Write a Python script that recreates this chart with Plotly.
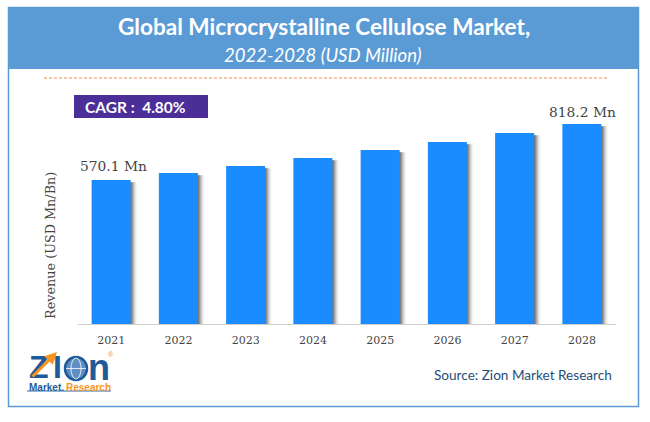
import plotly.graph_objects as go

years = ["2021", "2022", "2023", "2024", "2025", "2026", "2027", "2028"]
revenue = [570.1, 601, 632, 667, 703, 738, 778, 818.2]
axis_floor = -68
axis_top = 924.5

W = 650
H = 422

def px(x):
    return x / W

def py(y):
    return 1 - y / H

def box(x0, y0, x1, y1, **kw):
    return dict(type="rect", xref="paper", yref="paper", x0=px(x0), x1=px(x1), y0=py(y0), y1=py(y1), **kw)

def oval(x0, y0, x1, y1, **kw):
    return dict(type="circle", xref="paper", yref="paper", x0=px(x0), x1=px(x1), y0=py(y0), y1=py(y1), **kw)

def label(x, y, text, size, color, family="Lato", **kw):
    return dict(xref="paper", yref="paper", x=px(x), y=py(y), text=text, showarrow=False,
                xanchor="center", yanchor="middle",
                font=dict(family=family, size=size, color=color), **kw)

heights = [v - axis_floor for v in revenue]
bar_width = 0.58

fig = go.Figure()

# soft grey shadow on the right side of each bar, stacked thin layers
for i, a in enumerate([0.45, 0.35, 0.25, 0.17, 0.1, 0.05, 0.03]):
    fig.add_trace(go.Bar(x=years, y=[h - 10 for h in heights], base=axis_floor,
                         width=0.1,
                         offset=bar_width / 2 - 0.1 + (i + 1) * 0.0149,
                         marker=dict(color="rgba(90,90,90,%s)" % a, line_width=0),
                         hoverinfo="skip", showlegend=False))

fig.add_trace(go.Bar(x=years, y=heights, base=axis_floor, width=bar_width,
                     marker=dict(color="#1a8cff", line_width=0),
                     showlegend=False))

serif = "DejaVu Serif"

fig.update_layout(
    width=W, height=H, margin=dict(l=0, r=0, t=0, b=0),
    paper_bgcolor="white", plot_bgcolor="white", barmode="overlay", showlegend=False,
    xaxis=dict(domain=[px(77.5), px(615.5)], range=[-0.5, 7.5], type="category",
               showgrid=False, showline=True, linecolor="#d0d0d0", linewidth=1,
               ticks="", ticklabelstandoff=6, tickfont=dict(family=serif, size=11, color="#444444")),
    yaxis=dict(domain=[py(324), py(100)], range=[axis_floor, axis_top],
               showgrid=False, zeroline=False, showticklabels=False, ticks=""),
)

shapes = [
    box(8.5, 7.5, 638.5, 406.5, line=dict(color="#5b9bd5", width=1.5), fillcolor="rgba(0,0,0,0)"),
    box(8, 7, 639, 69, line_width=0, fillcolor="#5b9bd5"),
    dict(type="line", xref="paper", yref="paper", x0=px(44), x1=px(608), y0=py(78), y1=py(78),
         line=dict(color="#f08a4b", width=1, dash="3px,2px")),
    box(74, 95, 208, 118, line_width=0, fillcolor="#4b2e97"),
    # logo globe
    oval(65, 357, 87, 380, line=dict(color="#1f5a99", width=2.5), fillcolor="#5f8fc4"),
    oval(71, 358, 81, 379, line=dict(color="white", width=0.8), fillcolor="rgba(0,0,0,0)"),
    dict(type="line", xref="paper", yref="paper", x0=px(66), x1=px(86), y0=py(368.5), y1=py(368.5),
         line=dict(color="white", width=0.8)),
    dict(type="line", xref="paper", yref="paper", x0=px(27), x1=px(111), y0=py(391), y1=py(391),
         line=dict(color="#2a6db0", width=1)),
]
fig.update_layout(shapes=shapes)

annotations = [
    label(323.5, 27, "<b>Global Microcrystalline Cellulose Market,</b>", 22.6, "white"),
    label(323, 55, "<i>2022-2028 (USD Million)</i>", 18.5, "white"),
    label(135.5, 107, "<b>CAGR :  4.80%</b>", 15.5, "white"),
    # numeric strings on a category axis are read as positions, so use the index
    dict(xref="x", yref="y", x=0, y=revenue[0], xshift=2, yshift=14, text="570.1 Mn", showarrow=False,
         font=dict(family=serif, size=13.8, color="#444444")),
    dict(xref="x", yref="y", x=7, y=revenue[7], xshift=1, yshift=12, text="818.2 Mn", showarrow=False,
         font=dict(family=serif, size=13.8, color="#444444")),
    label(50, 246, "Revenue (USD Mn/Bn)", 12.8, "#444444", family=serif, textangle=-90),
    label(523, 375, "Source: Zion Market Research", 13.6, "#1f4e79"),
    # logo text
    label(39, 367, "<b>Z</b>", 32, "#1f5a99", family="Liberation Sans"),
    label(57, 367, "<b>I</b>", 32, "#1f5a99", family="Liberation Sans"),
    label(99, 367, "<b>n</b>", 36, "#1f5a99", family="Liberation Sans"),
    label(46, 387, "<b>Market.</b>", 10, "#1f5a99", family="Liberation Sans"),
    label(88, 387, "<b>Research</b>", 10, "#f7941d", family="Liberation Sans"),
    label(111, 354, "®", 7, "#f7941d", family="Liberation Sans"),
    dict(xref="paper", yref="paper", x=px(57), y=py(352), ax=-26, ay=26, text="", showarrow=True,
         arrowhead=2, arrowsize=0.8, arrowwidth=3, arrowcolor="#f7941d"),
]
fig.update_layout(annotations=annotations)

fig.write_html("out.html", config=dict(displayModeBar=False),
               post_script="document.body.style.margin='0';")
